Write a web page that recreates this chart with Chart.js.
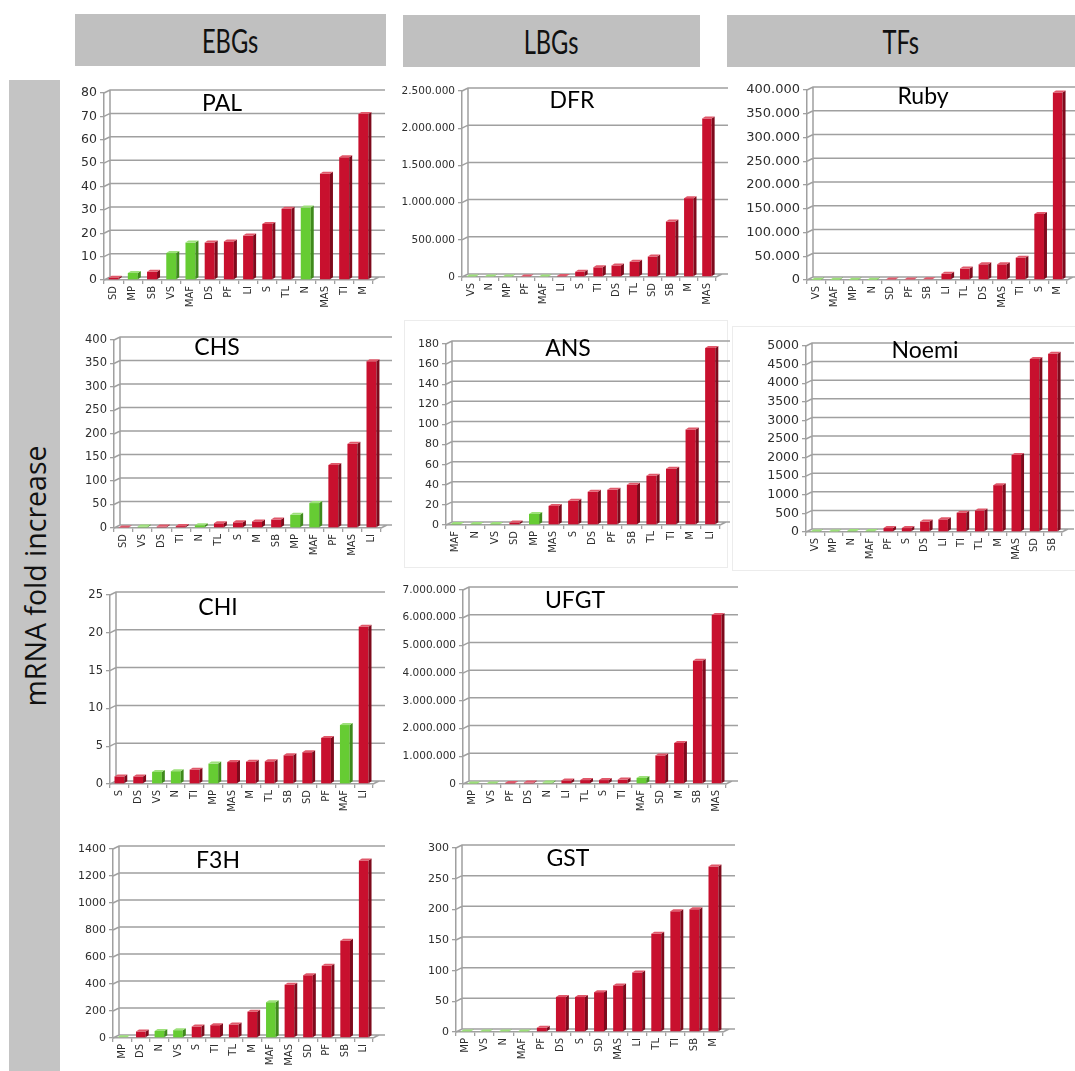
<!DOCTYPE html>
<html>
<head>
<meta charset="utf-8">
<script src="https://cdn.jsdelivr.net/npm/chart.js@4.4.1/dist/chart.umd.min.js"></script>
<style>
  html, body { margin: 0; padding: 0; background: #ffffff; }
  body { position: relative; width: 1075px; height: 1071px; overflow: hidden; font-family: "Open Sans", sans-serif; }
  .hdr { position: absolute; background: #c0c0c0; display: flex; align-items: center; justify-content: center; }
  .hdr span { font-family: "Lato", sans-serif; font-size: 32px; color: #111; transform: scaleX(0.74); display: inline-block; }
  .side { position: absolute; left: 9px; top: 80px; width: 51px; height: 991px; background: #c4c4c4; }
  .side span { position: absolute; left: 50%; top: 50%; transform: translate(-50%, -50%) rotate(-90deg);
               white-space: nowrap; font-family: "Open Sans", sans-serif; font-size: 28.5px; color: #111; }
  .frame { position: absolute; border: 1px solid #ececec; }
  canvas { position: absolute; }
</style>
</head>
<body>
<div class="hdr" style="left:75px; top:14px; width:311px; height:52px;"><span>EBGs</span></div>
<div class="hdr" style="left:403px; top:15px; width:297px; height:52px;"><span>LBGs</span></div>
<div class="hdr" style="left:727px; top:15px; width:348px; height:52px;"><span>TFs</span></div>
<div class="side"><span>mRNA fold increase</span></div>
<div class="frame" style="left:404px; top:320px; width:322px; height:246px;"></div>
<div class="frame" style="left:732px; top:326px; width:343px; height:243px;"></div>

<script>
// Cultivars drawn in green; every other cultivar is drawn in red.
const greenVarieties = ['VS', 'MP', 'N', 'MAF'];

// EBGs
const palLabels = ['SD','MP','SB','VS','MAF','DS','PF','LI','S','TL','N','MAS','TI','M'];
const palValues = [1, 3, 3.5, 11.5, 16, 16, 16.5, 19, 24, 30.5, 31, 45.5, 52.5, 71];

const chsLabels = ['SD','VS','DS','TI','N','TL','S','M','SB','MP','MAF','PF','MAS','LI'];
const chsValues = [1, 3, 3, 4, 6, 10, 12, 14, 18, 28, 53, 134, 179, 355];

const chiLabels = ['S','DS','VS','N','TI','MP','MAS','M','TL','SB','SD','PF','MAF','LI'];
const chiValues = [1, 1, 1.6, 1.7, 1.9, 2.7, 2.9, 2.95, 3, 3.8, 4.2, 6.1, 7.8, 20.8];

const f3hLabels = ['MP','DS','N','VS','S','TI','TL','M','MAF','MAS','SD','PF','SB','LI'];
const f3hValues = [5, 48, 52, 58, 85, 95, 100, 195, 265, 395, 465, 535, 720, 1315];

// LBGs
const dfrLabels = ['VS','N','MP','PF','MAF','LI','S','TI','DS','TL','SD','SB','M','MAS'];
const dfrValues = [8000, 8000, 8000, 8000, 8000, 15000, 70000, 130000, 155000, 205000, 275000, 745000, 1060000, 2130000];

const ansLabels = ['MAF','N','VS','SD','MP','MAS','S','DS','PF','SB','TL','TI','M','LI'];
const ansValues = [1, 1, 1, 2.5, 11, 19, 24, 33, 35, 40, 49, 56, 95, 176];

const ufgtLabels = ['MP','VS','PF','DS','N','LI','TL','S','TI','MAF','SD','M','SB','MAS'];
const ufgtValues = [15000, 20000, 40000, 50000, 50000, 130000, 140000, 140000, 160000, 220000, 1030000, 1480000, 4450000, 6100000];

const gstLabels = ['MP','VS','N','MAF','PF','DS','S','SD','MAS','LI','TL','TI','SB','M'];
const gstValues = [1, 1, 1, 1, 7, 57, 57, 65, 76, 97, 160, 197, 200, 270];

// TFs
const rubyLabels = ['VS','MAF','MP','N','SD','PF','SB','LI','TL','DS','MAS','TI','S','M'];
const rubyValues = [700, 700, 700, 700, 1200, 1200, 1500, 13000, 24000, 33000, 33000, 47000, 139000, 395000];

const noemiLabels = ['VS','MP','N','MAF','PF','S','DS','LI','TI','TL','M','MAS','SD','SB'];
const noemiValues = [15, 15, 25, 25, 105, 105, 280, 340, 520, 580, 1260, 2070, 4650, 4790];

// Y-axis ranges
const palAxis   = { max: 80,      step: 10 };
const chsAxis   = { max: 400,     step: 50 };
const chiAxis   = { max: 25,      step: 5 };
const f3hAxis   = { max: 1400,    step: 200 };
const dfrAxis   = { max: 2500000, step: 500000, dots: true };
const ansAxis   = { max: 180,     step: 20 };
const ufgtAxis  = { max: 7000000, step: 1000000, dots: true };
const gstAxis   = { max: 300,     step: 50 };
const rubyAxis  = { max: 400000,  step: 50000, dots: true };
const noemiAxis = { max: 5000,    step: 500 };

const COLORS = {
  red:   { front: '#c8102e', side: '#7e0a1c', top: '#e0586a' },
  green: { front: '#66cc33', side: '#3f8a1c', top: '#9de07a' },
  grid: '#a0a0a0',
  text: '#2e2e2e'
};

// European thousands separator: 2500000 -> 2.500.000
function dotted(v) {
  return String(v).replace(/\B(?=(\d{3})+(?!\d))/g, '.');
}

// Back wall with perspective: gridlines sit slightly up and to the right of the axis.
const wall3d = {
  id: 'wall3d',
  beforeDatasetsDraw(chart, args, opts) {
    const { ctx, chartArea: a } = chart;
    const ys = chart.scales.y;
    const gx = opts.dx, gy = opts.dy;
    ctx.save();
    ctx.strokeStyle = COLORS.grid;
    ctx.lineWidth = 1.5;
    ctx.beginPath();
    ys.ticks.forEach(t => {
      const y = ys.getPixelForValue(t.value);
      ctx.moveTo(a.left, y);
      ctx.lineTo(a.left + gx, y - gy);
      ctx.lineTo(a.right + gx + opts.ext, y - gy);
    });
    ctx.moveTo(a.left + gx, a.bottom - gy);
    ctx.lineTo(a.left + gx, ys.getPixelForValue(ys.max) - gy);
    ctx.moveTo(a.right, a.bottom);
    ctx.lineTo(a.right + gx, a.bottom - gy);
    ctx.stroke();
    ctx.restore();
  }
};

// Side and top faces that give each bar its depth.
const bars3d = {
  id: 'bars3d',
  afterDatasetsDraw(chart, args, opts) {
    const { ctx } = chart;
    const meta = chart.getDatasetMeta(0);
    const labels = chart.data.labels;
    const d = opts.dx, dy = opts.dy;
    ctx.save();
    meta.data.forEach((bar, i) => {
      const p = bar.getProps(['x', 'y', 'base', 'width'], true);
      const c = greenVarieties.includes(labels[i]) ? COLORS.green : COLORS.red;
      const l = p.x - p.width / 2, r = p.x + p.width / 2;
      ctx.fillStyle = c.side;
      ctx.beginPath();
      ctx.moveTo(r, p.y); ctx.lineTo(r + d, p.y - dy);
      ctx.lineTo(r + d, p.base - dy); ctx.lineTo(r, p.base);
      ctx.closePath(); ctx.fill();
      ctx.fillStyle = c.top;
      ctx.beginPath();
      ctx.moveTo(l, p.y); ctx.lineTo(l + d, p.y - dy);
      ctx.lineTo(r + d, p.y - dy); ctx.lineTo(r, p.y);
      ctx.closePath(); ctx.fill();
    });
    ctx.restore();
  }
};

// Gene name printed inside the plot area.
const panelTitle = {
  id: 'panelTitle',
  afterDraw(chart, args, opts) {
    const { ctx } = chart;
    ctx.save();
    ctx.font = '23px "Lato", sans-serif';
    ctx.fillStyle = '#000';
    ctx.textAlign = 'center';
    ctx.textBaseline = 'middle';
    ctx.fillText(opts.text, opts.x, opts.y);
    ctx.restore();
  }
};

// canvas: [left, top, right, bottom]; plot: [left, top, right, bottom]; titleAt: [cx, cy] (page px)
const panels = [
  { title: 'PAL',   labels: palLabels,   values: palValues,   axis: palAxis,   canvas: [62, 78, 392, 310],   plot: [104, 93, 373, 280],  titleAt: [222, 104], font: 12.5 },
  { title: 'CHS',   labels: chsLabels,   values: chsValues,   axis: chsAxis,   canvas: [62, 325, 392, 560],  plot: [114, 340, 381, 528], titleAt: [217, 348], font: 11.5 },
  { title: 'CHI',   labels: chiLabels,   values: chiValues,   axis: chiAxis,   canvas: [62, 580, 392, 816],  plot: [110, 595, 373, 784], titleAt: [218, 608], font: 11.5 },
  { title: 'F3H',   labels: f3hLabels,   values: f3hValues,   axis: f3hAxis,   canvas: [62, 834, 392, 1070], plot: [113, 849, 373, 1038], titleAt: [218, 861], font: 11 },
  { title: 'DFR',   labels: dfrLabels,   values: dfrValues,   axis: dfrAxis,   canvas: [396, 76, 730, 308],  plot: [462, 91, 716, 277],  titleAt: [572, 101], font: 10.5 },
  { title: 'ANS',   labels: ansLabels,   values: ansValues,   axis: ansAxis,   canvas: [405, 329, 730, 556], plot: [446, 344, 720, 525], titleAt: [568, 349], font: 11 },
  { title: 'UFGT',  labels: ufgtLabels,  values: ufgtValues,  axis: ufgtAxis,  canvas: [396, 575, 740, 816], plot: [463, 590, 726, 784], titleAt: [575, 601], font: 10.5 },
  { title: 'GST',   labels: gstLabels,   values: gstValues,   axis: gstAxis,   canvas: [396, 833, 740, 1064], plot: [456, 848, 723, 1032], titleAt: [568, 859], font: 11 },
  { title: 'Ruby',  labels: rubyLabels,  values: rubyValues,  axis: rubyAxis,  canvas: [730, 75, 1075, 310],  plot: [807, 90, 1067, 280], titleAt: [923, 97], font: 13 },
  { title: 'Noemi', labels: noemiLabels, values: noemiValues, axis: noemiAxis, canvas: [735, 331, 1075, 564], plot: [806, 346, 1062, 532], titleAt: [925, 351], font: 12.5 }
];

panels.forEach(p => {
  const [cl, ct, cr, cb] = p.canvas;
  const [pl, pt, pr, pb] = p.plot;
  const cv = document.createElement('canvas');
  cv.width = cr - cl;
  cv.height = cb - ct;
  cv.style.left = cl + 'px';
  cv.style.top = ct + 'px';
  document.body.appendChild(cv);

  new Chart(cv, {
    type: 'bar',
    data: {
      labels: p.labels,
      datasets: [{
        data: p.values,
        backgroundColor: p.labels.map(l => greenVarieties.includes(l) ? COLORS.green.front : COLORS.red.front),
        borderWidth: 0,
        barPercentage: 0.52,
        categoryPercentage: 1
      }]
    },
    options: {
      responsive: false,
      animation: false,
      devicePixelRatio: 1,
      layout: { padding: { top: pt - ct, right: cr - pr, left: 0, bottom: 0 } },
      plugins: {
        legend: { display: false },
        tooltip: { enabled: false },
        wall3d: { dx: 6, dy: 3, ext: 6 },
        bars3d: { dx: 3, dy: 2 },
        panelTitle: { text: p.title, x: p.titleAt[0] - cl, y: p.titleAt[1] - ct }
      },
      scales: {
        x: {
          grid: { display: true, drawOnChartArea: false, tickLength: 4, color: COLORS.grid, lineWidth: 1.3, offset: true },
          border: { color: COLORS.grid, width: 1.5 },
          ticks: {
            autoSkip: false, minRotation: 90, maxRotation: 90, padding: 2,
            color: COLORS.text, font: { family: 'DejaVu Sans', size: 10 }
          },
          afterFit(s) { s.height = cb - pb; }
        },
        y: {
          min: 0,
          max: p.axis.max,
          grid: { display: true, drawOnChartArea: false, tickLength: 4, color: COLORS.grid, lineWidth: 1.3 },
          border: { color: COLORS.grid, width: 1.5 },
          ticks: {
            stepSize: p.axis.step, padding: 3,
            color: COLORS.text, font: { family: 'DejaVu Sans', size: p.font },
            callback: v => p.axis.dots ? dotted(v) : String(v)
          },
          afterFit(s) { s.width = pl - cl; }
        }
      }
    },
    plugins: [wall3d, bars3d, panelTitle]
  });
});
</script>
</body>
</html>
